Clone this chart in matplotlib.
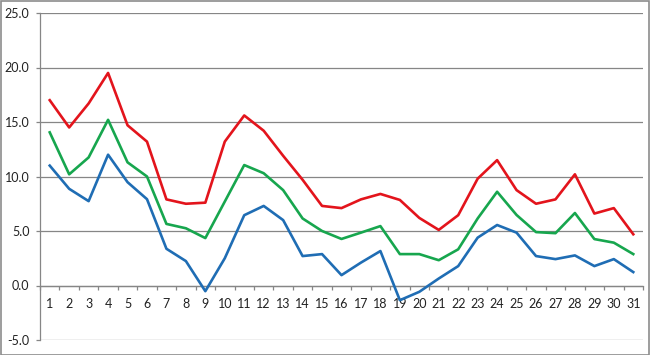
import matplotlib
matplotlib.use("Agg")
import matplotlib.pyplot as plt
from matplotlib.patches import Rectangle
from matplotlib.ticker import FixedLocator, FormatStrFormatter

days = list(range(1, 32))
red = [17.0, 14.5, 16.7, 19.5, 14.7, 13.2, 7.9, 7.5, 7.6, 13.2,
       15.6, 14.2, 11.9, 9.7, 7.3, 7.1, 7.9, 8.4, 7.85, 6.2,
       5.1, 6.45, 9.8, 11.5, 8.75, 7.5, 7.9, 10.2, 6.6, 7.1, 4.7]
green = [14.05, 10.2, 11.75, 15.2, 11.3, 10.0, 5.65, 5.25, 4.35, 7.7,
         11.05, 10.3, 8.75, 6.15, 5.0, 4.27, 4.85, 5.45, 2.88, 2.88,
         2.32, 3.32, 6.15, 8.6, 6.47, 4.9, 4.8, 6.65, 4.26, 3.93, 2.88]
blue = [11.0, 8.87, 7.74, 12.0, 9.48, 7.92, 3.37, 2.24, -0.52, 2.5,
        6.45, 7.3, 6.0, 2.7, 2.88, 0.95, 2.1, 3.16, -1.35, -0.58,
        0.64, 1.78, 4.39, 5.55, 4.85, 2.7, 2.42, 2.76, 1.78, 2.42, 1.23]
yticks = [-5, 0, 5, 10, 15, 20, 25]

W, H = 650, 355
fig = plt.figure(figsize=(W / 100, H / 100), dpi=100)
ax = fig.add_axes([40 / W, 1 - 340 / H, 603 / W, 327 / H])

grid_c = "#868686"
for y in yticks:
    ax.axhline(y, color=grid_c, lw=0.9, zorder=1)

ax.plot(days, blue, color="#1F6DB4", lw=1.9, zorder=3)
ax.plot(days, green, color="#17A64E", lw=1.9, zorder=3)
ax.plot(days, red, color="#E3141C", lw=1.9, zorder=3)

ax.set_xlim(0.5, 31.5)
ax.set_ylim(-5, 25)

for s in ["top", "right"]:
    ax.spines[s].set_visible(False)
ax.spines["left"].set_color(grid_c)
ax.spines["left"].set_linewidth(0.9)
ax.spines["bottom"].set_position(("data", 0))
ax.spines["bottom"].set_color(grid_c)
ax.spines["bottom"].set_linewidth(0.9)

ax.yaxis.set_major_locator(FixedLocator(yticks))
ax.yaxis.set_major_formatter(FormatStrFormatter("%.1f"))
ax.tick_params(axis="y", length=3, width=0.9, color=grid_c, pad=4.5,
               labelsize=9, labelcolor="#222222")

ax.set_xticks(days)
ax.set_xticklabels([str(d) for d in days])
ax.xaxis.set_minor_locator(FixedLocator([d + 0.5 for d in range(0, 32)]))
ax.tick_params(axis="x", which="major", length=0, pad=9,
               labelsize=9, labelcolor="#222222")
ax.tick_params(axis="x", which="minor", length=3, width=0.9, color=grid_c,
               direction="out")
for lab in ax.get_xticklabels() + ax.get_yticklabels():
    lab.set_fontfamily("Lato")

fig.patches.append(Rectangle((0.5 / W, 0.5 / H), (W - 1.5) / W, (H - 1.5) / H,
                             transform=fig.transFigure, fill=False,
                             edgecolor="#8C8C8C", lw=1.2))

fig.savefig("out.png", dpi=100)
